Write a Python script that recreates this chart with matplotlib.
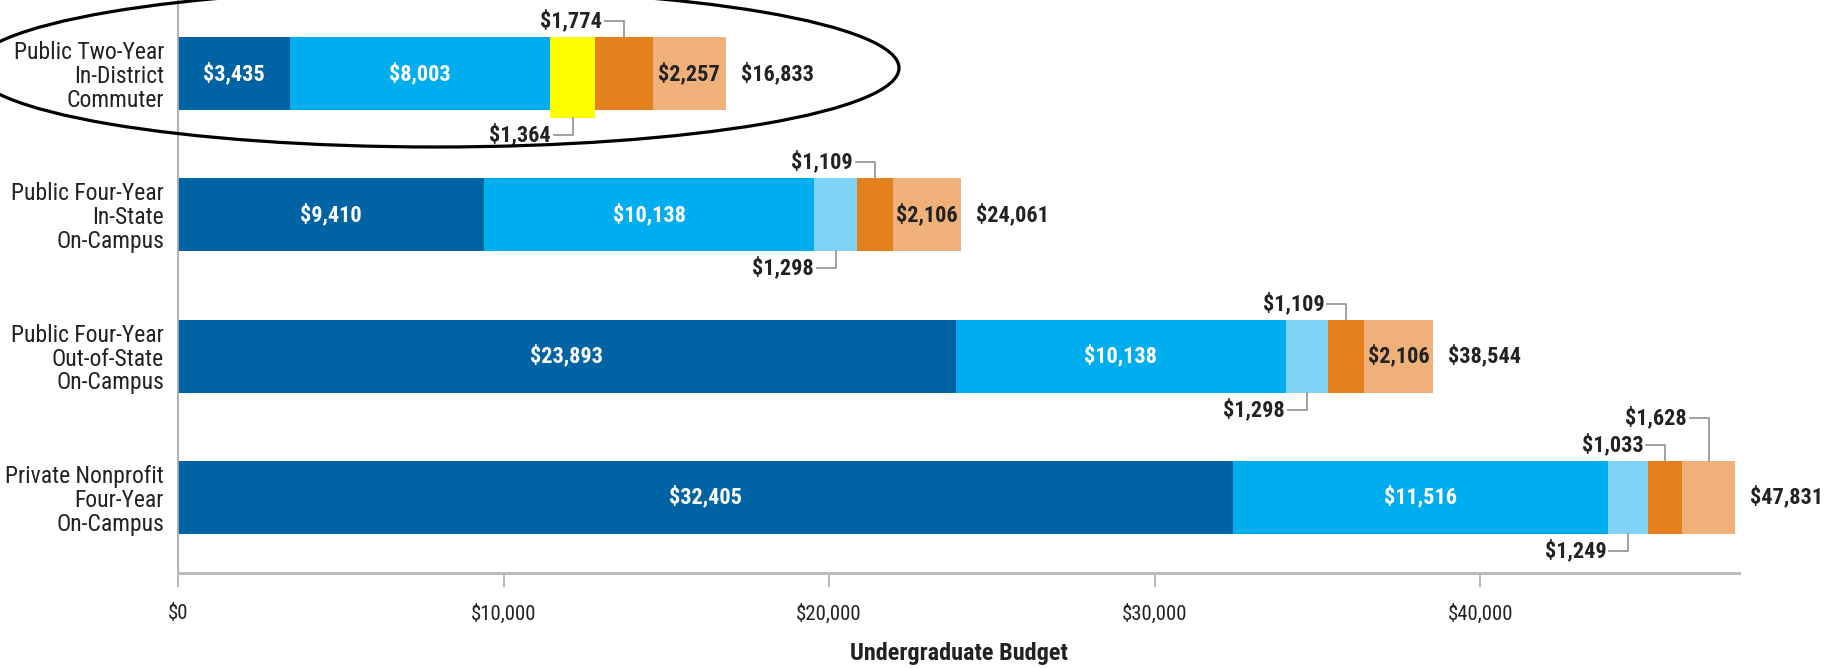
import matplotlib
matplotlib.use('Agg')
import matplotlib.pyplot as plt
from matplotlib.patches import Ellipse
from matplotlib import font_manager

# Undergraduate budget components (dollars)
categories = ['Public Two-Year\nIn-District\nCommuter',
              'Public Four-Year\nIn-State\nOn-Campus',
              'Public Four-Year\nOut-of-State\nOn-Campus',
              'Private Nonprofit\nFour-Year\nOn-Campus']
tuition = [3435, 9410, 23893, 32405]
room_board = [8003, 10138, 10138, 11516]
books = [1364, 1298, 1298, 1249]
transport = [1774, 1109, 1109, 1033]
other = [2257, 2106, 2106, 1628]
totals = [16833, 24061, 38544, 47831]
xticks = [0, 10000, 20000, 30000, 40000]
xtick_labels = ['$0', '$10,000', '$20,000', '$30,000', '$40,000']

colors = ['#0064a4', '#00aeef', '#80d3f6', '#e5801f', '#efb07a']

# pick a narrow face if one is around
names = {f.name for f in font_manager.fontManager.ttflist}
FONT = [n for n in ['Roboto Condensed', 'Liberation Sans Narrow',
                    'Open Sans Condensed'] if n in names] + ['DejaVu Sans']
STRETCH = 'condensed'


def money(v):
    return '${:,}'.format(v)


fig = plt.figure(figsize=(18.33, 6.68), dpi=100)
ax = fig.add_axes([178 / 1833, 95 / 668, 1561 / 1833, 573 / 668])

xmax = 47950
ax.set_xlim(0, xmax)
ax.set_ylim(3.535, -0.52)
px_x = xmax / 1561.0
px_y = 1 / 141.3
h = 0.517

ys = list(range(len(categories)))
segments = [tuition, room_board, books, transport, other]
lefts = [0] * len(ys)
for vals, c in zip(segments, colors):
    ax.barh(ys, vals, left=lefts, height=h, color=c, edgecolor='none')
    lefts = [l + v for l, v in zip(lefts, vals)]

# highlighted books segment in the first row
yb = 8 * px_y
ax.bar(tuition[0] + room_board[0], h + yb, width=books[0], bottom=-h / 2,
       align='edge', color='#ffff00', edgecolor='none', zorder=3)

lab = dict(family=FONT, fontstretch=STRETCH, fontweight='bold', fontsize=16,
           va='center')
for i in ys:
    ax.text(tuition[i] / 2, i, money(tuition[i]), color='white', ha='center', **lab)
    ax.text(tuition[i] + room_board[i] / 2, i, money(room_board[i]),
            color='white', ha='center', **lab)
    ax.text(totals[i] + 15 * px_x, i, money(totals[i]), color='#222222',
            ha='left', **lab)
    if i < 3:
        ax.text(totals[i] - other[i] / 2, i, money(other[i]), color='#222222',
                ha='center', **lab)


def callout(xc, y_text, y_edge, value):
    x0 = xc - 19 * px_x
    ax.plot([x0, xc, xc], [y_text, y_text, y_edge], color='#999999', lw=1.3,
            zorder=4)
    ax.text(x0 - 3 * px_x, y_text, money(value), ha='right', color='#222222',
            **lab)


for i in ys:
    top = i - h / 2
    bot = i + h / 2
    b_start = tuition[i] + room_board[i]
    t_start = b_start + books[i]
    below = bot + yb if i == 0 else bot
    callout(b_start + books[i] / 2, below + 17 * px_y, below, books[i])
    callout(t_start + transport[i] / 2, top - 16 * px_y, top, transport[i])
    if i == 3:
        callout(totals[i] - other[i] / 2, top - 43 * px_y, top, other[i])

ax.set_yticks(ys)
ax.set_yticklabels(categories, family=FONT, fontstretch=STRETCH, fontsize=17,
                   color='#222222', linespacing=1.05)
ax.tick_params(axis='y', length=0, pad=10)
ax.set_xticks(xticks)
ax.set_xticklabels(xtick_labels, family=FONT, fontstretch=STRETCH, fontsize=15,
                   color='#222222')
ax.tick_params(axis='x', length=10, width=1.2, color='#aaaaaa', pad=12)
ax.set_xlabel('Undergraduate Budget', family=FONT, fontstretch=STRETCH,
              fontsize=17.5, fontweight='bold', color='#222222', labelpad=13)

for s in ['top', 'right']:
    ax.spines[s].set_visible(False)
ax.spines['left'].set_color('#aaaaaa')
ax.spines['left'].set_linewidth(1.3)
ax.spines['bottom'].set_color('#bbbbbb')
ax.spines['bottom'].set_linewidth(2.2)

ell = Ellipse((436 / 1833, 1 - 68 / 668), 926 / 1833, 158 / 668,
              transform=fig.transFigure, fill=False, edgecolor='black', lw=2.3)
fig.add_artist(ell)

fig.savefig('out.png', dpi=100)
